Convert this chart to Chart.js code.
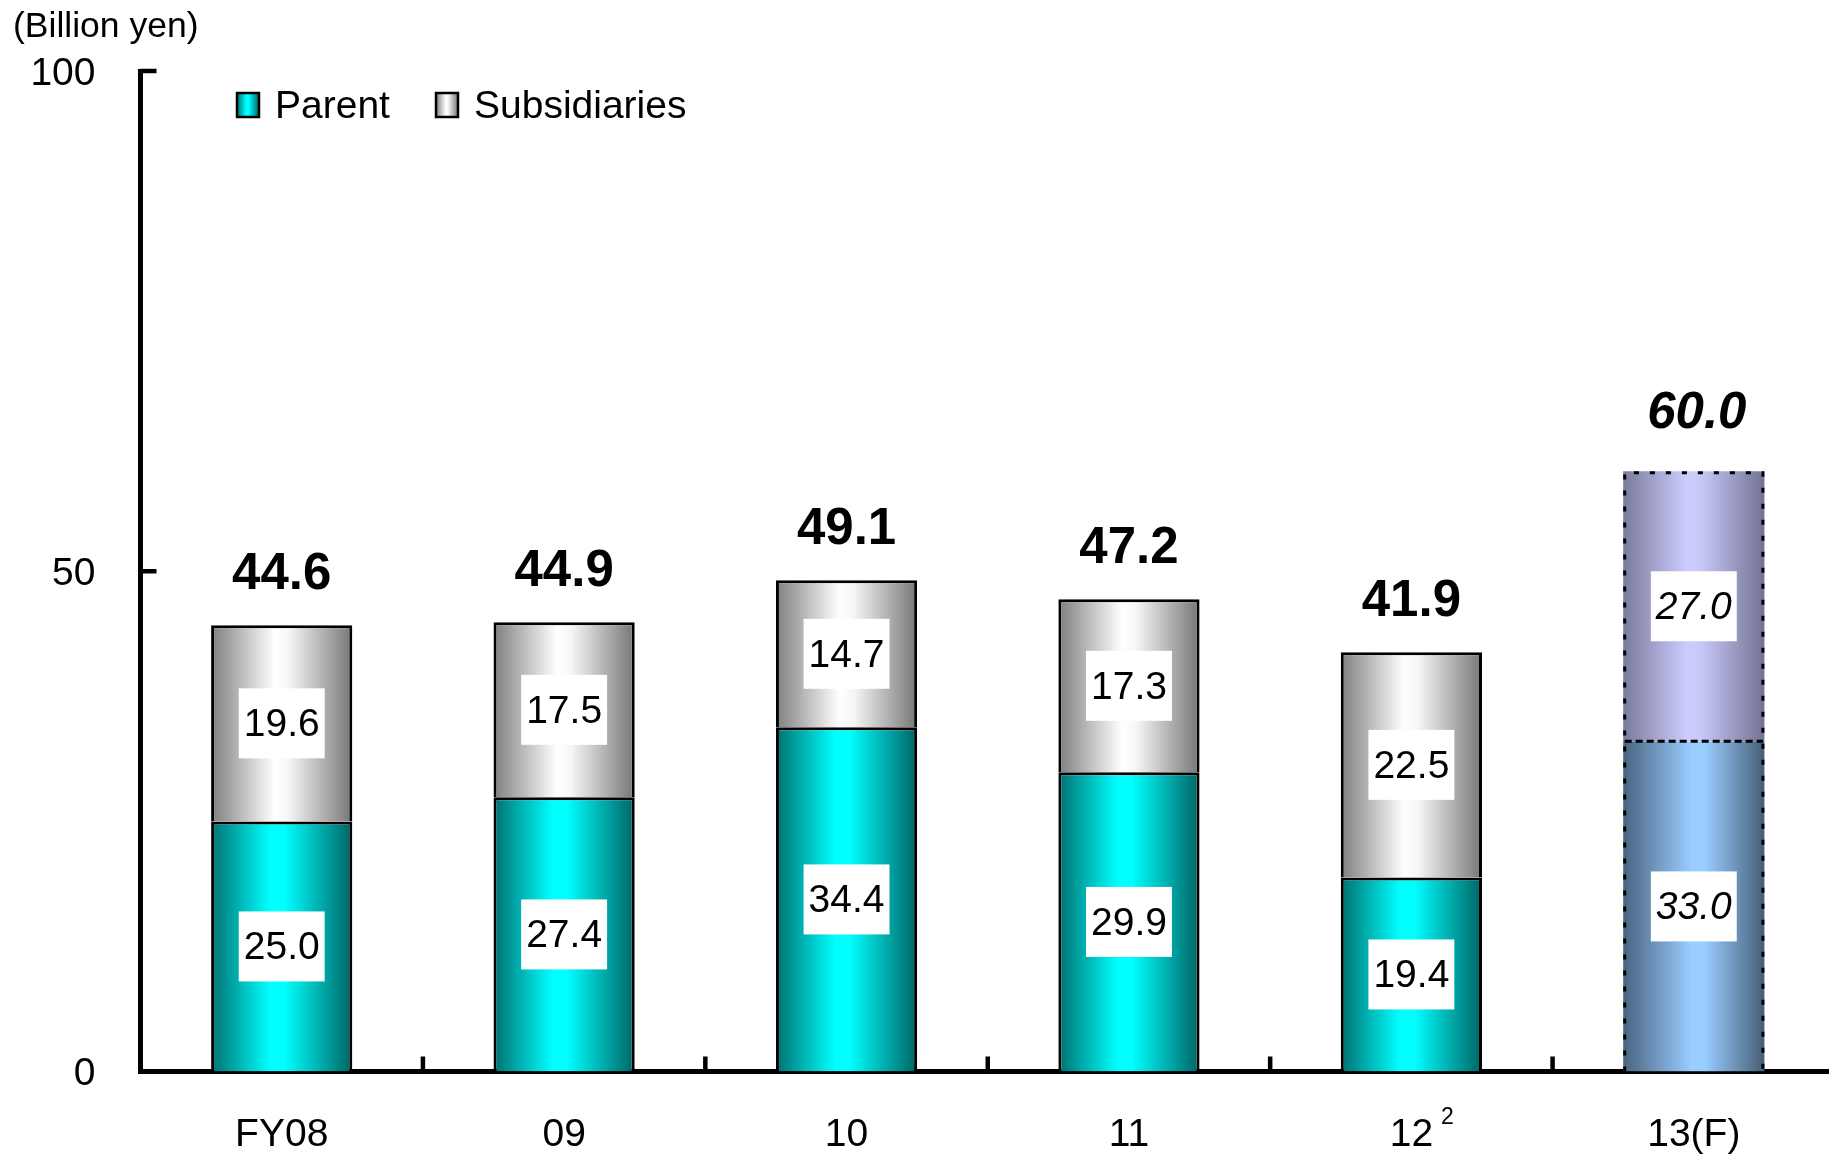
<!DOCTYPE html>
<html lang="en">
<head>
  <meta charset="UTF-8" />
  <title>Capital expenditure</title>
  <script src="https://cdn.jsdelivr.net/npm/chart.js"></script>
  <style>
    html, body { margin: 0; padding: 0; background: #fff; overflow: hidden; }
    canvas { display: block; }
  </style>
</head>
<body>
  <!-- a few px wider than the window: the x axis runs off the right edge -->
  <canvas id="capexChart" width="1835" height="1155"></canvas>

  <script>
    const categories = ["FY08", "09", "10", "11", "12", "13(F)"];
    const parentValues = [25.0, 27.4, 34.4, 29.9, 19.4, 33.0];
    const subsidiaryValues = [19.6, 17.5, 14.7, 17.3, 22.5, 27.0];
    const seriesNames = ["Parent", "Subsidiaries"];
    const yTickValues = [0, 50, 100];
    const footnotes = ["", "", "", "", "2", ""];
    const forecastIndex = 5;
    const unitLabel = "(Billion yen)";

    const FONT = "'Liberation Sans', Arial, sans-serif";
    const BAR_PCT = 0.5;

    // horizontal "cylinder" shading for each series, actual and forecast
    const shading = {
      parent:   [[0, "#007070"], [0.42, "#00ffff"], [0.52, "#00ffff"], [1, "#006464"]],
      subs:     [[0, "#7e7e7e"], [0.45, "#ffffff"], [0.55, "#f6f6f6"], [1, "#767676"]],
      parentF:  [[0, "#4a6480"], [0.48, "#99ccff"], [0.58, "#99ccff"], [1, "#465e76"]],
      subsF:    [[0, "#7a7a9c"], [0.45, "#ccccff"], [0.55, "#c8c8f8"], [1, "#727292"]]
    };

    function makeGradient(ctx, x0, x1, stops) {
      const g = ctx.createLinearGradient(x0, 0, x1, 0);
      stops.forEach(s => g.addColorStop(s[0], s[1]));
      return g;
    }

    function barFill(normal, forecast) {
      return (c) => {
        const chart = c.chart;
        const x = chart.scales.x;
        const stops = c.dataIndex === forecastIndex ? forecast : normal;
        if (!chart.chartArea || !x) return stops[1][1];
        const cx = x.getPixelForValue(c.dataIndex);
        const half = x.width / categories.length * BAR_PCT / 2;
        return makeGradient(chart.ctx, cx - half, cx + half, stops);
      };
    }

    const barBorder = (c) => (c.dataIndex === forecastIndex ? 0 : 3);

    const decorations = {
      id: "decorations",
      afterDatasetsDraw(chart) {
        const ctx = chart.ctx;
        const xs = chart.scales.x, ys = chart.scales.y;
        const area = chart.chartArea;
        const pMeta = chart.getDatasetMeta(0);
        const sMeta = chart.getDatasetMeta(1);

        ctx.save();
        ctx.strokeStyle = "#000";

        // inward tick marks on both axes
        ctx.lineWidth = 4.5;
        ys.ticks.forEach(t => {
          const y = ys.getPixelForValue(t.value);
          ctx.beginPath(); ctx.moveTo(area.left, y); ctx.lineTo(area.left + 16, y); ctx.stroke();
        });
        const catW = xs.width / categories.length;
        for (let i = 1; i < categories.length; i++) {
          const x = xs.getPixelForValue(i) - catW / 2;
          ctx.beginPath(); ctx.moveTo(x, area.bottom); ctx.lineTo(x, area.bottom - 15); ctx.stroke();
        }

        // forecast bar: dotted outline, dashed split between segments
        const pb = pMeta.data[forecastIndex], sb = sMeta.data[forecastIndex];
        const left = pb.x - pb.width / 2 + 1.5, right = pb.x + pb.width / 2 - 1.5;
        ctx.lineWidth = 3;
        ctx.setLineDash([5, 11]);
        ctx.beginPath();
        ctx.moveTo(left, pb.base); ctx.lineTo(left, sb.y + 1.5);
        ctx.lineTo(right, sb.y + 1.5); ctx.lineTo(right, pb.base);
        ctx.stroke();
        ctx.setLineDash([7, 4]);
        ctx.beginPath(); ctx.moveTo(left, pb.y); ctx.lineTo(right, pb.y); ctx.stroke();
        ctx.setLineDash([]);

        // segment values in white boxes
        ctx.textAlign = "center";
        ctx.textBaseline = "middle";
        chart.data.datasets.forEach((ds, di) => {
          chart.getDatasetMeta(di).data.forEach((bar, i) => {
            const txt = ds.data[i].toFixed(1);
            ctx.font = (i === forecastIndex ? "italic " : "") + "39px " + FONT;
            const w = ctx.measureText(txt).width + 10;
            const cy = (bar.y + bar.base) / 2;
            ctx.fillStyle = "#fff";
            ctx.fillRect(bar.x - w / 2, cy - 35, w, 70);
            ctx.fillStyle = "#000";
            ctx.fillText(txt, bar.x, cy + 2);
          });
        });

        // stack totals above each bar
        sMeta.data.forEach((bar, i) => {
          const total = parentValues[i] + subsidiaryValues[i];
          const forecast = i === forecastIndex;
          ctx.font = (forecast ? "italic bold " : "bold ") + "51px " + FONT;
          ctx.fillStyle = "#000";
          ctx.fillText(total.toFixed(1), bar.x + (forecast ? 3 : 0), bar.y - (forecast ? 57 : 50));
        });
        ctx.restore();
      },
      afterDraw(chart) {
        const ctx = chart.ctx;
        const xs = chart.scales.x;
        ctx.save();

        // unit label
        ctx.fillStyle = "#000";
        ctx.font = "35.5px " + FONT;
        ctx.textAlign = "left";
        ctx.textBaseline = "middle";
        ctx.fillText(unitLabel, 13, 27);

        // legend
        const items = [
          { name: seriesNames[0], stops: shading.parent, box: 237, text: 275 },
          { name: seriesNames[1], stops: shading.subs, box: 436, text: 474 }
        ];
        ctx.font = "39px " + FONT;
        items.forEach(it => {
          ctx.fillStyle = makeGradient(ctx, it.box, it.box + 22, it.stops);
          ctx.fillRect(it.box, 93, 22, 24);
          ctx.lineWidth = 2.5;
          ctx.strokeStyle = "#000";
          ctx.strokeRect(it.box, 93, 22, 24);
          ctx.fillStyle = "#000";
          ctx.fillText(it.name, it.text, 107);
        });

        // footnote marks next to category labels
        ctx.font = "39px " + FONT;
        footnotes.forEach((mark, i) => {
          if (!mark) return;
          const half = ctx.measureText(categories[i]).width / 2;
          const x = xs.getPixelForValue(i) + half + 8;
          ctx.save();
          ctx.font = "23px " + FONT;
          ctx.fillText(mark, x, 1118);
          ctx.restore();
        });
        ctx.restore();
      }
    };

    new Chart(document.getElementById("capexChart"), {
      type: "bar",
      data: {
        labels: categories,
        datasets: [
          {
            label: seriesNames[0],
            data: parentValues,
            backgroundColor: barFill(shading.parent, shading.parentF),
            borderColor: "#000",
            borderWidth: barBorder
          },
          {
            label: seriesNames[1],
            data: subsidiaryValues,
            backgroundColor: barFill(shading.subs, shading.subsF),
            borderColor: "#000",
            borderWidth: barBorder
          }
        ]
      },
      options: {
        responsive: false,
        animation: false,
        events: [],
        layout: { padding: { top: 71, right: 0, left: 0, bottom: 0 } },
        datasets: { bar: { categoryPercentage: 1, barPercentage: BAR_PCT } },
        plugins: { legend: { display: false }, tooltip: { enabled: false } },
        scales: {
          x: {
            stacked: true,
            grid: { display: false, drawTicks: false },
            border: { display: true, color: "#000", width: 5 },
            ticks: { color: "#000", font: { family: FONT, size: 39 }, padding: 40, maxRotation: 0 },
            afterFit(scale) { scale.height = 83.5; }
          },
          y: {
            stacked: true,
            min: 0,
            max: 100,
            afterBuildTicks(scale) { scale.ticks = yTickValues.map(v => ({ value: v })); },
            grid: { display: false, drawTicks: false },
            border: { display: true, color: "#000", width: 5 },
            ticks: { color: "#000", font: { family: FONT, size: 39 }, padding: 45, labelOffset: 3 },
            afterFit(scale) { scale.width = 140.5; }
          }
        }
      },
      plugins: [decorations]
    });
  </script>
</body>
</html>
